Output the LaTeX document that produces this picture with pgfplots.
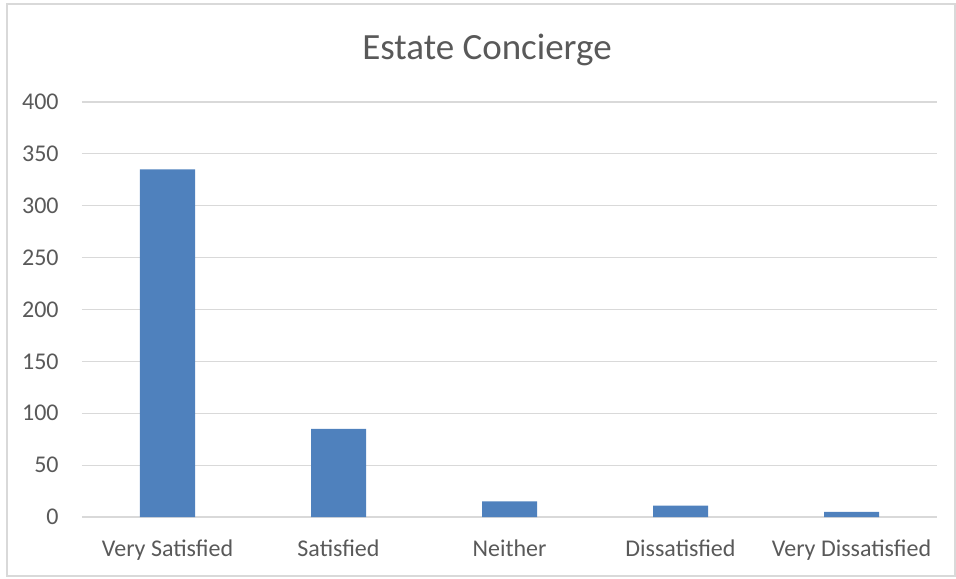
\documentclass[border=0pt]{standalone}
\usepackage{fontspec}
\setmainfont{Carlito}
\usepackage{pgfplots}
\pgfplotsset{compat=1.18}
\definecolor{barblue}{HTML}{4F81BD}
\definecolor{txtgray}{HTML}{595959}
\definecolor{gridgray}{HTML}{D9D9D9}
\begin{document}
\begin{tikzpicture}
% 1 px of the reference = 0.5pt
\path[use as bounding box] (-41pt,-30.5pt) rectangle (437pt,258.5pt);
\draw[gridgray, line width=0.6pt] (-37.5pt,-29.5pt) rectangle (436.5pt,256.5pt);
\begin{axis}[
    at={(0pt,0pt)}, anchor=south west,
    scale only axis,
    width=427.5pt, height=207.5pt,
    ybar, bar width=27.5pt,
    xmin=-0.5, xmax=4.5,
    ymin=0, ymax=400,
    ytick={0,50,...,400},
    xtick=data,
    xticklabels={Very Satisfied, Satisfied, Neither, Dissatisfied, Very Dissatisfied},
    axis line style={draw=none},
    major tick length=0pt,
    ymajorgrids,
    grid style={gridgray, line width=0.6pt},
    /pgf/number format/assume math mode=true,
    tick label style={font=\fontsize{12}{14}\selectfont, text=txtgray},
    yticklabel style={inner sep=0pt, xshift=-11.5pt},
    xticklabel style={inner sep=0pt, yshift=-11pt},
    title={Estate Concierge},
    title style={at={(axis description cs:0.4737,1)}, anchor=base, yshift=15.5pt,
                 font=\fontsize{18.5}{22}\selectfont, text=txtgray, inner sep=0pt},
]
\addplot[fill=barblue, draw=none] coordinates {
(0,335)
(1,85)
(2,15)
(3,11)
(4,5)
};
\end{axis}
\end{tikzpicture}
\end{document}
